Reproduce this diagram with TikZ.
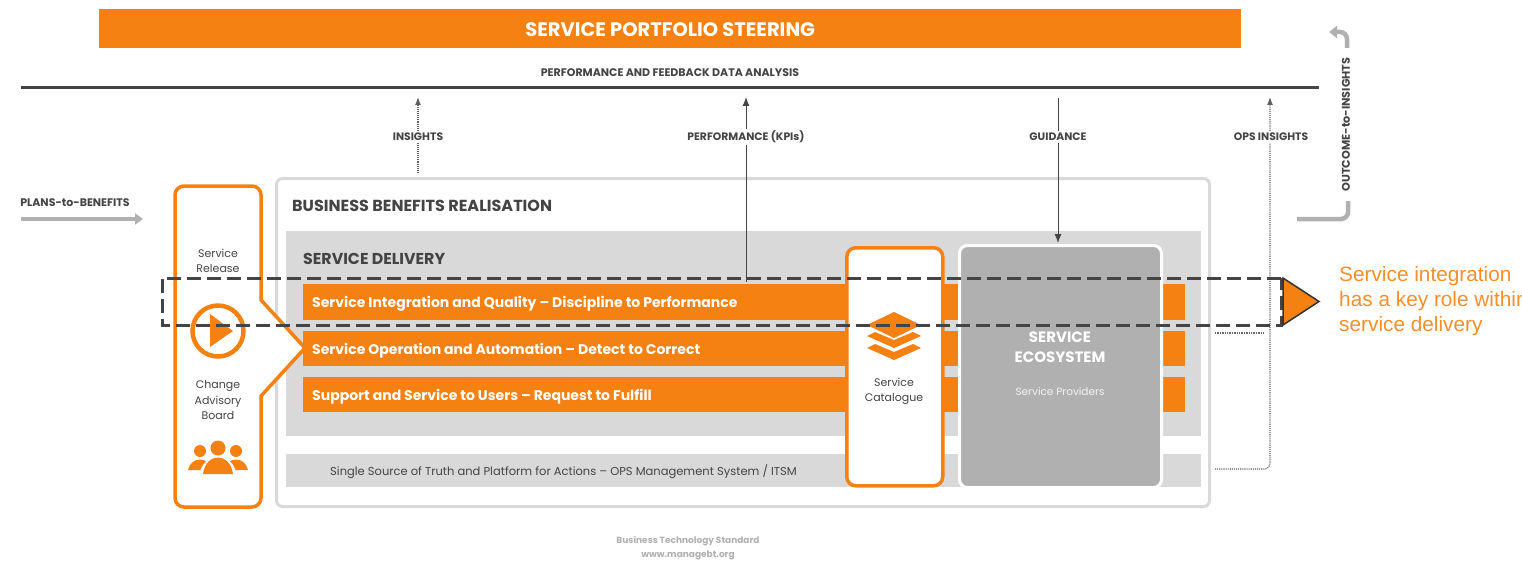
\documentclass[tikz,border=0pt]{standalone}
\usepackage{fontspec}
\setmainfont{Poppins}
\newfontfamily\calloutfont{Liberation Sans}
\usepackage{tikz}
\usetikzlibrary{shapes,arrows,arrows.meta}
\definecolor{btsorange}{HTML}{F58113}
\definecolor{btsgrey}{HTML}{D9D9D9}
\definecolor{btsdark}{HTML}{444444}
\definecolor{btsmid}{HTML}{B0B0B0}
\tikzset{
	band/.style={fill=#1,inner sep=0pt,anchor=north west},
	lbl/.style={text=btsdark,inner sep=1pt,align=center,font=\fontsize{#1}{#1}\selectfont},
	head/.style={text=btsdark,inner sep=1pt,font=\bfseries\fontsize{#1}{#1}\selectfont},
	tag/.style={fill=white,text=btsdark,inner sep=2pt,font=\bfseries\fontsize{10.8}{11}\selectfont},
	barlbl/.style={text=white,inner sep=0pt,font=\bfseries\fontsize{14}{14}\selectfont},
	orangeline/.style={draw=btsorange,line width=3.5pt},
	flow/.style={btsdark,line width=1pt,-{Latex[length=9pt,width=7pt]}},
	dotflow/.style={btsdark!85,line width=1.1pt,densely dotted,-{Latex[length=8pt,width=6pt]}},
	dotline/.style={btsmid!60!black,line width=1.4pt,densely dotted},
	bigflow/.style={btsmid,line width=4.5pt}
}
\begin{document}
\begin{tikzpicture}[x=1pt,y=-1pt]
	\useasboundingbox (0,0) rectangle (1522,567);
	% top of the picture
	\node[band=btsorange,minimum width=1142pt,minimum height=39pt] (steering) at (99,9) {};
	\node[text=white,font=\bfseries\fontsize{19.5}{20}\selectfont] (steeringlbl) at ([yshift=-1pt]steering.center) {SERVICE PORTFOLIO STEERING};
	\node[head=11] (analysis) at (670,73) {PERFORMANCE AND FEEDBACK DATA ANALYSIS};
	\coordinate (busl) at (21,88);
	\coordinate (busr) at (1319,88);
	\draw[btsdark,line width=3pt] (busl) -- (busr);
	% outer box and bands
	\node[band=white,draw=btsgrey,line width=3pt,rounded corners=6pt,minimum width=933pt,minimum height=328pt] (benefits) at (275,177) {};
	\node[head=16,anchor=west] (benefitslbl) at (291,205.5) {BUSINESS BENEFITS REALISATION};
	\node[band=btsgrey,minimum width=915pt,minimum height=205pt] (delivery) at (286,231) {};
	\node[head=15.8,anchor=west] (deliverylbl) at (302,258.5) {SERVICE DELIVERY};
	\node[band=btsgrey,minimum width=915pt,minimum height=33pt] (truth) at (286,454) {};
	\node[lbl=11.5,anchor=west] (truthlbl) at (329,472) {Single Source of Truth and Platform for Actions -- OPS Management System / ITSM};
	\foreach \name/\ytop/\hgt/\txt in {integration/284/36/Service Integration and Quality -- Discipline to Performance,
		operation/331/35/Service Operation and Automation -- Detect to Correct,
		support/377/35/Support and Service to Users -- Request to Fulfill} {
		\node[band=btsorange,minimum width=882pt,minimum height=\hgt pt] (\name) at (303,\ytop) {};
		\node[barlbl,anchor=west] (\name lbl) at ([xshift=9pt,yshift=-2pt]\name.west) {\txt};
	};
	% release column
	\draw[orangeline,fill=white,rounded corners=9pt] (175,230) -- (175,507) -- (261,507) [sharp corners] -- (261,396) -- (305,348) -- (261,300) [rounded corners=9pt] -- (261,186) -- (175,186) -- cycle;
	\node[lbl=11,text width=80pt] (release) at (218,260.5) {Service\\[4pt]Release};
	\node[lbl=11,text width=80pt] (board) at (218,400) {Change\\[4pt]Advisory\\[4pt]Board};
	\node[circle,draw=btsorange,line width=4.5pt,minimum size=51pt,inner sep=0pt] (play) at (218,331) {};
	\fill[btsorange] (210,314) -- (233,331) -- (210,347) -- cycle;
	% people
	\foreach \px in {200,236} {
		\fill[btsorange] (\px,451) circle (6);
		\fill[btsorange] (\px-12,470) .. controls (\px-9,456) and (\px+9,456) .. (\px+12,470) -- cycle;
	};
	\fill[white] (199,476) .. controls (203,450) and (233,450) .. (237,476) -- cycle;
	\fill[btsorange] (218,448) circle (7.5);
	\fill[btsorange] (203,474) .. controls (206,452) and (230,452) .. (233,474) -- cycle;
	% catalogue and ecosystem
	\node[band=white,draw=btsorange,line width=3.5pt,rounded corners=9pt,minimum width=96pt,minimum height=238pt] (catalogue) at (845,246) {};
	\foreach \ly in {348,336} {
		\fill[btsorange] (894,\ly+12) -- (867,\ly) -- (875,\ly-4) -- (894,\ly+4) -- (913,\ly-4) -- (921,\ly) -- cycle;
	};
	\fill[btsorange] (894,312) -- (921,325) -- (894,338) -- (867,325) -- cycle;
	\node[lbl=11,text width=80pt] (cataloguelbl) at (894,391.5) {Service\\[4pt]Catalogue};
	\node[band=btsmid,draw=white,line width=3pt,rounded corners=8pt,minimum width=202pt,minimum height=242pt] (ecosystem) at (958,244) {};
	\node[text=white,align=center,inner sep=0pt,font=\bfseries\fontsize{15}{20}\selectfont] (ecosystemlbl) at (1060,347) {SERVICE\\ECOSYSTEM};
	\node[text=white!85!btsmid,inner sep=0pt,font=\fontsize{10.5}{12}\selectfont] (providers) at (1060,392) {Service Providers};
	% connectors to the bus
	\coordinate (insightsfoot) at (418,173);
	\coordinate (insightstip) at (418,97);
	\coordinate (kpifoot) at (746,282);
	\coordinate (kpitip) at (746,97);
	\coordinate (guidefoot) at (1058,98);
	\coordinate (guidetip) at (1058,243);
	\coordinate (opsfoot) at (1215,469);
	\coordinate (opscorner) at (1270,469);
	\coordinate (opstip) at (1270,97);
	\coordinate (stubl) at (1215,333);
	\coordinate (stubr) at (1265,333);
	\draw[dotflow] (insightsfoot) -- (insightstip);
	\node[tag] (insights) at (418,137) {INSIGHTS};
	\draw[flow] (kpifoot) -- (kpitip);
	\node[tag] (kpis) at (746,137) {PERFORMANCE (KPIs)};
	\draw[flow] (guidefoot) -- (guidetip);
	\node[tag] (guidance) at (1058,137) {GUIDANCE};
	\draw[dotflow,rounded corners=6pt] (opsfoot) -- (opscorner) -- (opstip);
	\node[tag] (opsinsights) at (1271,137) {OPS INSIGHTS};
	\draw[dotline] (stubl) -- (stubr);
	% plans and outcome
	\node[head=11] (plans) at (75,203) {PLANS-to-BENEFITS};
	\coordinate (plansl) at (21,219);
	\coordinate (plansr) at (143,219);
	\draw[btsmid,line width=4.5pt,-{Triangle[length=8pt,width=11pt]}] (plansl) -- (plansr);
	\node[head=11.2,rotate=90] (outcome) at (1346,124.5) {OUTCOME-to-INSIGHTS};
	\coordinate (outa) at (1297,219);
	\coordinate (outb) at (1348,219);
	\coordinate (outc) at (1348,201);
	\draw[bigflow,rounded corners=7pt] (outa) -- (outb) -- (outc);
	\coordinate (outd) at (1347,48);
	\coordinate (oute) at (1347,32);
	\coordinate (outf) at (1329,32);
	\draw[bigflow,rounded corners=7pt,-{Triangle[length=8pt,width=12pt]}] (outd) -- (oute) -- (outf);
	% callout
	\draw[btsdark,line width=3pt,dash pattern=on 14pt off 6pt] (1281,278) -- (162,278) -- (162,325) -- (1281,325) -- cycle;
	\coordinate (markertop) at (1283,278);
	\coordinate (markertip) at (1319,301.5);
	\coordinate (markerbot) at (1283,325);
	\draw[draw=black!80,line width=1.5pt,fill=btsorange] (markertop) -- (markertip) -- (markerbot) -- cycle;
	\node[anchor=west,inner sep=0pt,text=btsorange!90!white,align=left,font=\calloutfont\fontsize{20.8}{24.7}\selectfont] (calloutlbl) at (1339,301) {Service integration\\has a key role within\\service delivery};
	% footer
	\node[text=btsmid,inner sep=0pt,align=center,font=\bfseries\fontsize{9}{14}\selectfont] (footer) at (688,548) {Business Technology Standard\\www.managebt.org};
\end{tikzpicture}
\end{document}
